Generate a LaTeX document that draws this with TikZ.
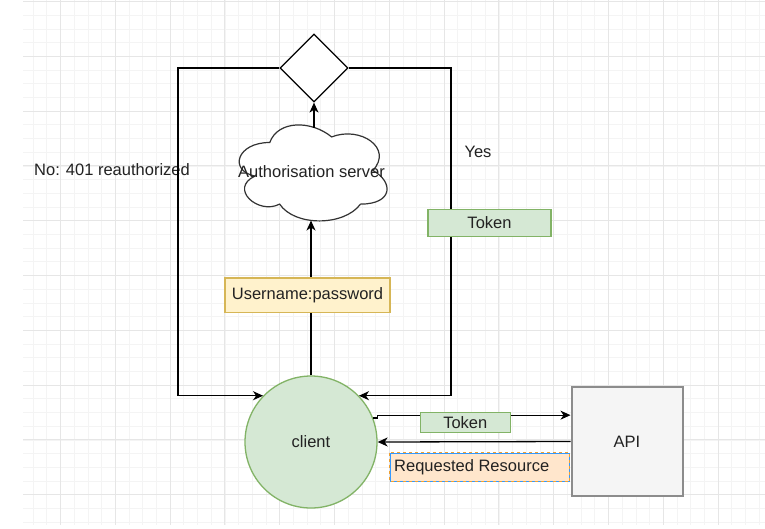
\documentclass[tikz,border=0pt]{standalone}
\usepackage{fontspec}
\setmainfont{Liberation Sans}
\usetikzlibrary{shapes.geometric,arrows.meta,calc}
\definecolor{gridminor}{HTML}{F4F4F4}
\definecolor{gridmajor}{HTML}{E6E6E6}
\definecolor{greenfill}{HTML}{D5E8D4}
\definecolor{greenline}{HTML}{82B366}
\definecolor{yellowfill}{HTML}{FFF2CC}
\definecolor{yellowline}{HTML}{D6B656}
\definecolor{orangefill}{HTML}{FFE6CC}
\definecolor{orangeline}{HTML}{F0A030}
\definecolor{selblue}{HTML}{3399FF}
\definecolor{apifill}{HTML}{F5F5F5}
\definecolor{apiline}{HTML}{8C8C8C}
\definecolor{txt}{HTML}{222222}
\begin{document}
\begin{tikzpicture}[x=1pt,y=-1pt,
  font=\fontsize{16.5}{19.8}\selectfont,
  every node/.style={text=txt},
  conn/.style={line width=1.3pt,black},
  arr/.style={conn,-{Stealth[length=10pt,width=9pt,inset=3pt]}},
  labelbox/.style={rectangle,line width=1.3pt,inner sep=0pt},
  greenbox/.style={labelbox,fill=greenfill,draw=greenline},
]
\fill[white] (0,0) rectangle (765,528);
\useasboundingbox (0,0) rectangle (765,528);
% grid
\foreach \i in {0,...,53}{\draw[gridminor,line width=0.8pt] ({33.1+13.7*\i},0) -- ({33.1+13.7*\i},525);}
\foreach \j in {0,...,38}{\draw[gridminor,line width=0.8pt] (23,{1.5+13.7*\j}) -- (765,{1.5+13.7*\j});}
\foreach \i in {0,...,12}{\draw[gridmajor,line width=0.9pt] ({60.5+54.8*\i},0) -- ({60.5+54.8*\i},525);}
\foreach \j in {0,...,9}{\draw[gridmajor,line width=0.9pt] (23,{1.5+54.8*\j}) -- (765,{1.5+54.8*\j});}

% nodes
\node[diamond,draw=black,line width=1.2pt,fill=white,minimum width=68pt,minimum height=68pt,inner sep=0pt] (dia) at (314,68) {};
\begin{scope}[shift={(228.5,114.5)},x=165pt,y=-112pt]
\draw[line width=1.2pt,draw=black!80,fill=white]
  (0.25,0.25) .. controls (0.05,0.25) and (0,0.5) .. (0.16,0.55)
  .. controls (0,0.66) and (0.18,0.9) .. (0.31,0.8)
  .. controls (0.4,1) and (0.7,1) .. (0.8,0.8)
  .. controls (1,0.8) and (1,0.6) .. (0.875,0.5)
  .. controls (1,0.3) and (0.8,0.1) .. (0.625,0.2)
  .. controls (0.5,0.05) and (0.3,0.05) .. (0.25,0.25) -- cycle;
\end{scope}
\node (cloud) at (311.5,171.5) {Authorisation server};
\coordinate (cloudtop) at (314,127.5);
\coordinate (cloudbot) at (312,220.5);
\coordinate (Lc) at (178,230);
\coordinate (Rc) at (451,230);

\node[circle,fill=greenfill,draw=greenline,line width=1.3pt,minimum size=132pt,inner sep=0pt] (client) at (311,442) {client};
\node[rectangle,fill=apifill,draw=apiline,line width=2pt,minimum width=111pt,minimum height=109pt,inner sep=0pt] (API) at (627,441.5) {API};

\node (no) at (112,170) {No: 401 reauthorized};
\node (yes) at (478,152) {Yes};

% connectors
\draw[arr] (cloudtop) -- (dia.south);
\draw[arr] (client.north) -- (client.north |- cloudbot);
\draw[arr] (dia.west) -| (Lc) |- (client.136);
\draw[arr] (dia.east) -| (Rc) |- (client.44);
\draw[arr] (client.21) -- ++(4,0) |- (API.155.5);
\draw[arr] (API.west) -- (client.east);

% labels on connectors
\node[labelbox,fill=yellowfill,draw=yellowline,minimum width=165pt,minimum height=34.5pt] (up) at (307.5,295.3) {Username:password};
\node[greenbox,minimum width=123pt,minimum height=27pt] (tok1) at (489.5,222.7) {Token};
\node[greenbox,minimum width=90pt,minimum height=19.5pt] (tok2) at (465.3,422.5) {Token};
\node[rectangle,fill=orangefill,draw=selblue,line width=1pt,minimum width=179pt,minimum height=28pt,inner sep=0pt] (rrbox) at (479.5,467.2) {};
\draw[orangeline,line width=1pt,dash pattern=on 3pt off 3pt] (rrbox.north west) rectangle (rrbox.south east);
\node[anchor=west,inner sep=0pt] (rr) at (394,467.2) {Requested Resource};
\end{tikzpicture}
\end{document}
